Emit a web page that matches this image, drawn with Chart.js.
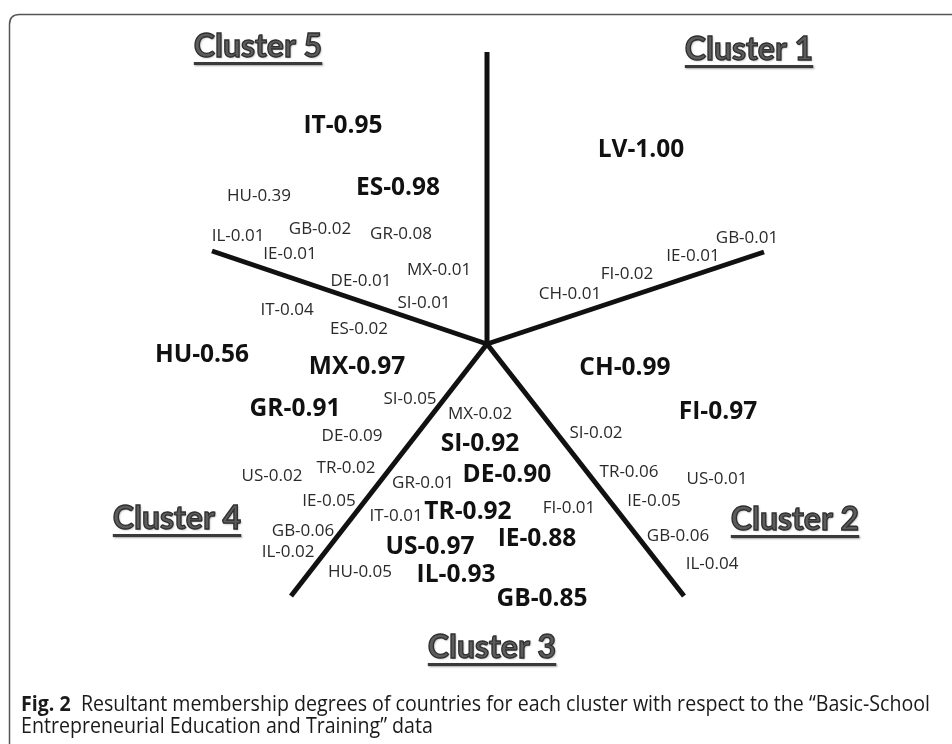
<!DOCTYPE html>
<html>
<head>
<meta charset="utf-8">
<script src="https://cdn.jsdelivr.net/npm/chart.js@4.4.1/dist/chart.umd.min.js"></script>
<style>
html,body{margin:0;padding:0;background:#fff;}
#wrap{width:952px;height:744px;position:relative;}
</style>
</head>
<body>
<div id="wrap"><canvas id="c" width="952" height="744"></canvas></div>
<script>
// ---------- DATA ----------
const clusterNames = ['Cluster 1', 'Cluster 2', 'Cluster 3', 'Cluster 4', 'Cluster 5'];

const c1Countries = ['LV', 'GB', 'IE', 'FI', 'CH'];
const c1Degrees   = [1.00, 0.01, 0.01, 0.02, 0.01];

const c2Countries = ['CH', 'FI', 'SI', 'TR', 'US', 'IE', 'GB', 'IL'];
const c2Degrees   = [0.99, 0.97, 0.02, 0.06, 0.01, 0.05, 0.06, 0.04];

const c3Countries = ['SI', 'DE', 'TR', 'IE', 'US', 'IL', 'GB', 'MX', 'GR', 'IT', 'FI'];
const c3Degrees   = [0.92, 0.90, 0.92, 0.88, 0.97, 0.93, 0.85, 0.02, 0.01, 0.01, 0.01];

const c4Countries = ['HU', 'MX', 'GR', 'SI', 'DE', 'US', 'TR', 'IE', 'GB', 'IL', 'HU'];
const c4Degrees   = [0.56, 0.97, 0.91, 0.05, 0.09, 0.02, 0.02, 0.05, 0.06, 0.02, 0.05];

const c5Countries = ['IT', 'ES', 'HU', 'IL', 'GB', 'GR', 'IE', 'MX', 'DE', 'SI', 'IT', 'ES'];
const c5Degrees   = [0.95, 0.98, 0.39, 0.01, 0.02, 0.08, 0.01, 0.01, 0.01, 0.01, 0.04, 0.02];

const captionBold = 'Fig. 2';
const captionLine1 = 'Resultant membership degrees of countries for each cluster with respect to the \u201cBasic-School';
const captionLine2 = 'Entrepreneurial Education and Training\u201d data';

// ---------- LAYOUT (diagram placement, in scale units) ----------
const hub = [487, 344];
const spokeEnds = [[487, 52], [764, 252], [684, 596], [291, 596], [212, 251]];
const titlePos = [[749, 60], [795, 530], [492, 658], [177, 529], [258, 57]];
const c1Pos = [[641,148],[747,237],[693,255],[627,273],[570,293]];
const c2Pos = [[625,366],[718,410],[596,432],[629,471],[717,478],[654,500],[678,535],[712,563]];
const c3Pos = [[480,442],[507,473],[468,510],[537,537],[430,545],[456,573],[542,597],[480,413],[423,482],[396,515],[569,507]];
const c4Pos = [[202,353],[357,365],[295,407],[410,398],[352,435],[272,475],[346,467],[329,500],[303,530],[288,551],[360,571]];
const c5Pos = [[343,124],[398,186],[259,195],[238,235],[320,228],[401,233],[290,253],[439,269],[361,280],[424,302],[287,309],[359,328]];

const groups = [
  [c1Countries, c1Degrees, c1Pos],
  [c2Countries, c2Degrees, c2Pos],
  [c3Countries, c3Degrees, c3Pos],
  [c4Countries, c4Degrees, c4Pos],
  [c5Countries, c5Degrees, c5Pos]
];

const datasets = [];
spokeEnds.forEach(e => {
  datasets.push({
    type: 'line', showLine: true, data: [{x: hub[0], y: hub[1]}, {x: e[0], y: e[1]}],
    borderColor: '#111', borderWidth: 5, pointRadius: 0, fill: false, borderCapStyle: 'butt', kind: 'spoke'
  });
});
groups.forEach(g => {
  datasets.push({
    data: g[2].map(p => ({x: p[0], y: p[1]})),
    labels: g[0].map((c, i) => c + '-' + g[1][i].toFixed(2)),
    strong: g[1].map(v => v >= 0.5),
    pointRadius: 0, kind: 'labels'
  });
});
datasets.push({
  data: titlePos.map(p => ({x: p[0], y: p[1]})),
  labels: clusterNames, pointRadius: 0, kind: 'titles'
});

const textPlugin = {
  id: 'texts',
  beforeDraw(chart) {
    const ctx = chart.ctx;
    ctx.save();
    ctx.fillStyle = '#fff';
    ctx.fillRect(0, 0, chart.width, chart.height);
    // frame
    ctx.strokeStyle = '#555';
    ctx.lineWidth = 1.5;
    ctx.beginPath();
    const x0 = 9.5, y0 = 14.5, r = 10, x1 = 980, y1 = 780;
    ctx.moveTo(x0, y1);
    ctx.lineTo(x0, y0 + r);
    ctx.quadraticCurveTo(x0, y0, x0 + r, y0);
    ctx.lineTo(x1, y0);
    ctx.stroke();
    ctx.restore();
  },
  afterDatasetsDraw(chart) {
    const ctx = chart.ctx;
    chart.data.datasets.forEach((ds, di) => {
      const meta = chart.getDatasetMeta(di);
      if (ds.kind === 'labels') {
        meta.data.forEach((pt, i) => {
          ctx.save();
          const big = ds.strong[i];
          const size = big ? 24.5 : 17;
          ctx.font = (big ? 'bold ' : '') + size + 'px "Open Sans"';
          ctx.fillStyle = big ? '#111' : '#2a2a2a';
          ctx.textAlign = 'center';
          ctx.textBaseline = 'alphabetic';
          ctx.fillText(ds.labels[i], pt.x, pt.y + size * 0.357);
          ctx.restore();
        });
      } else if (ds.kind === 'titles') {
        meta.data.forEach((pt, i) => {
          ctx.save();
          ctx.font = 'bold 32px Lato';
          ctx.textAlign = 'center';
          ctx.textBaseline = 'alphabetic';
          const w = ctx.measureText(ds.labels[i]).width;
          ctx.shadowColor = 'rgba(0,0,0,0.35)';
          ctx.shadowOffsetX = 1; ctx.shadowOffsetY = 1; ctx.shadowBlur = 2;
          ctx.fillStyle = '#5c5c5c';
          ctx.fillText(ds.labels[i], pt.x, pt.y);
          ctx.shadowColor = 'transparent';
          ctx.strokeStyle = '#2e2e2e';
          ctx.lineWidth = 1.3;
          ctx.strokeText(ds.labels[i], pt.x, pt.y);
          ctx.shadowColor = 'rgba(0,0,0,0.35)';
          ctx.fillStyle = '#3a3a3a';
          ctx.fillRect(pt.x - w / 2, pt.y + 5, w, 3);
          ctx.restore();
        });
      }
    });
    // caption
    ctx.save();
    ctx.fillStyle = '#1a1a1a';
    ctx.textBaseline = 'alphabetic';
    ctx.textAlign = 'left';
    const bf = 'bold 21px "Open Sans"', nf = '21px "Open Sans"';
    ctx.font = bf; const wb = ctx.measureText(captionBold + '  ').width;
    ctx.font = nf; const w1 = ctx.measureText(captionLine1).width;
    const sx = (930 - 21) / (wb + w1);
    ctx.translate(21, 0);
    ctx.scale(sx, 1);
    ctx.font = bf; ctx.fillText(captionBold, 0, 711);
    ctx.font = nf; ctx.fillText(captionLine1, wb, 711);
    ctx.fillText(captionLine2, 0, 733);
    ctx.restore();
  }
};

new Chart(document.getElementById('c'), {
  type: 'scatter',
  data: { datasets },
  options: {
    responsive: false,
    animation: false,
    layout: { padding: 0 },
    plugins: { legend: { display: false }, tooltip: { enabled: false } },
    scales: {
      x: { type: 'linear', min: 0, max: 952, display: false },
      y: { type: 'linear', min: 0, max: 744, reverse: true, display: false }
    }
  },
  plugins: [textPlugin]
});
</script>
</body>
</html>
